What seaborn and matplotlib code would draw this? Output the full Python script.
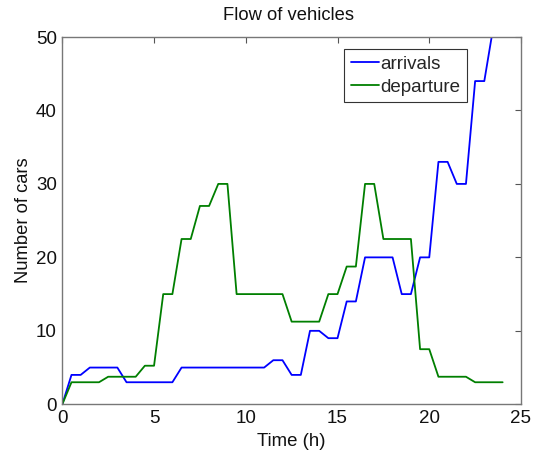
import matplotlib
matplotlib.use("Agg")
import matplotlib.pyplot as plt
import seaborn as sns
import pandas as pd

arr_t = [0, 0.5, 1, 1.5, 3, 3.5, 6, 6.5, 11, 11.5, 12, 12.5, 13, 13.5, 14, 14.5, 15,
         15.5, 16, 16.5, 18, 18.5, 19, 19.5, 20, 20.5, 21, 21.5, 22, 22.5, 23, 23.5, 24]
arr_v = [0, 4, 4, 5, 5, 3, 3, 5, 5, 6, 6, 4, 4, 10, 10, 9, 9,
         14, 14, 20, 20, 15, 15, 20, 20, 33, 33, 30, 30, 44, 44, 51.5, 51.5]

dep_t = [0, 0.5, 2, 2.5, 4, 4.5, 5, 5.5, 6, 6.5, 7, 7.5, 8, 8.5, 9, 9.5, 12, 12.5, 14,
         14.5, 15, 15.5, 16, 16.5, 17, 17.5, 19, 19.5, 20, 20.5, 22, 22.5, 24]
dep_v = [0, 3, 3, 3.75, 3.75, 5.25, 5.25, 15, 15, 22.5, 22.5, 27, 27, 30, 30, 15, 15, 11.25, 11.25,
         15, 15, 18.75, 18.75, 30, 30, 22.5, 22.5, 7.5, 7.5, 3.75, 3.75, 3, 3]

series_names = ["arrivals", "departure"]
x_ticks = [0, 5, 10, 15, 20, 25]
y_ticks = [0, 10, 20, 30, 40, 50]

df = pd.concat([
    pd.DataFrame({"t": arr_t, "v": arr_v, "s": series_names[0]}),
    pd.DataFrame({"t": dep_t, "v": dep_v, "s": series_names[1]}),
], ignore_index=True)

sns.set_style("white")
plt.rcParams["font.family"] = ["Liberation Sans", "DejaVu Sans"]

fig = plt.figure(figsize=(5.39, 4.54), dpi=100)
ax = fig.add_axes([0.1156, 0.1095, 0.851, 0.809])

sns.lineplot(data=df, x="t", y="v", hue="s", palette=["#0000ff", "#007f00"],
             sort=False, estimator=None, linewidth=1.3, ax=ax)

ax.set_xlim(0, 25)
ax.set_ylim(0, 50)
ax.set_xticks(x_ticks)
ax.set_yticks(y_ticks)
ax.tick_params(direction="in", length=4, width=0.8, color="#555555",
               top=True, right=True, labelsize=13.5, labelcolor="#111111")
ax.tick_params(axis="x", pad=4)
ax.tick_params(axis="y", pad=4)
for sp in ax.spines.values():
    sp.set_visible(True)
    sp.set_color("#777777")
    sp.set_linewidth(1.0)

ax.set_xlabel("Time (h)", fontsize=13.4, color="#111111")
ax.xaxis.set_label_coords(0.5, -0.078)
ax.set_ylabel("Number of cars", fontsize=13.2, color="#111111")
ax.yaxis.set_label_coords(-0.066, 0.5)
ax.set_title("Flow of vehicles", fontsize=13.2, color="#111111", x=0.494, y=1.0, pad=12)

leg = ax.legend(loc="upper left", bbox_to_anchor=(0.614, 0.967), fontsize=13.5,
                frameon=True, fancybox=False, framealpha=1, edgecolor="#333333",
                handlelength=1.5, handletextpad=0.1, borderpad=0.35,
                labelspacing=0.3, borderaxespad=0)
leg.get_frame().set_linewidth(0.8)

fig.savefig("out.png", dpi=100)
